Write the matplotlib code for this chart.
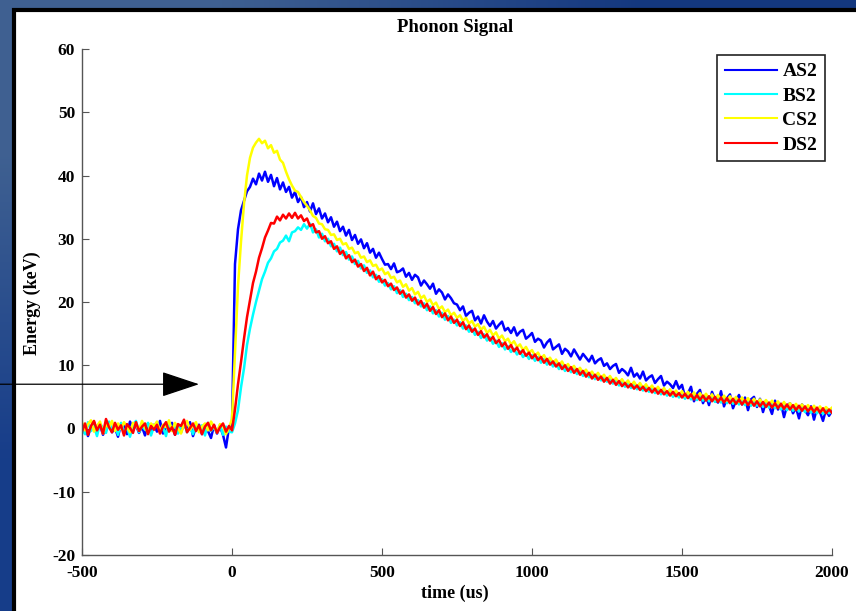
import numpy as np
import matplotlib
matplotlib.use("Agg")
import matplotlib.pyplot as plt
from matplotlib.patches import Rectangle
from matplotlib.patches import ArrowStyle

plt.rcParams['font.family'] = ['Liberation Serif', 'DejaVu Serif']
plt.rcParams['font.weight'] = 'bold'
plt.rcParams['axes.unicode_minus'] = False

# time axis, 10 us steps
t = np.arange(-500, 2001, 10)

AS2 = [
    -0.8, 0.5, -1.2, 0.3, 1.0, -0.4, 0.6, -1.0, 0.2, 0.9, -0.6, 0.1, -1.3, 0.7, 0.4, -0.9, 1.1, -0.2, 0.5, -0.7, 0.3, -1.1, 0.8, -0.3, 0.6,
    -0.5, 1.2, -0.8, 0.4, -0.2, 0.9, -1.0, 0.3, -0.6, 0.7, -0.3, 1.0, -1.2, 0.2, 0.6, -0.9, 0.4, -0.4, -1.5, 0.5, -0.8, 0.3, -1.0, -3.0, 0.2,
    0.5, 26.0, 31.5, 34.5, 36.0, 37.5, 38.2, 39.5, 38.6, 40.3, 39.2, 40.6, 39.0, 40.1, 38.3, 39.6, 37.8, 38.9, 37.4, 38.2, 36.5, 37.4, 35.8, 36.6, 35.0,
    35.8, 34.3, 35.6, 33.9, 34.8, 33.2, 34.0, 32.6, 33.4, 31.9, 32.7, 31.2, 31.9, 30.5, 31.4, 29.8, 30.6, 29.2, 29.9, 28.5, 29.3, 27.8, 28.4, 27.0, 27.8,
    26.8, 25.9, 26.0, 25.2, 26.1, 24.7, 24.9, 25.3, 24.0, 24.6, 23.5, 24.3, 23.9, 22.6, 23.4, 22.8, 22.1, 22.9, 21.3, 22.0, 21.5, 20.4, 21.2, 20.6, 19.8,
    19.6, 18.7, 19.3, 17.8, 18.3, 18.6, 17.1, 17.7, 16.6, 17.9, 16.9, 16.2, 17.0, 15.8, 16.4, 16.9, 15.5, 15.9, 15.1, 16.0, 14.7, 15.3, 15.6, 14.2, 14.6,
    15.1, 13.7, 14.2, 13.9, 12.8, 13.6, 14.1, 12.5, 12.9, 13.3, 11.8, 12.6, 12.2, 11.4, 12.5, 11.7, 10.9, 11.8, 11.2, 10.6, 11.5, 10.3, 10.8, 11.1, 9.9,
    10.3, 9.4, 9.9, 10.2, 8.8, 9.4, 9.0, 8.4, 9.6, 8.2, 8.7, 7.9, 9.0, 7.6, 8.1, 8.4, 7.2, 7.8, 8.3, 6.8, 7.4, 7.0, 6.4, 7.5, 6.3,
    6.9, 5.0, 5.6, 6.6, 4.3, 5.5, 6.1, 4.0, 5.2, 3.7, 5.8, 4.6, 4.1, 5.9, 3.5, 4.8, 5.4, 3.2, 4.4, 5.3, 3.8, 4.9, 2.9, 4.6, 5.0,
    3.4, 4.7, 2.6, 4.2, 3.6, 2.3, 4.4, 3.0, 3.9, 1.8, 3.6, 4.0, 2.4, 3.3, 1.6, 3.8, 2.9, 2.1, 3.5, 1.4, 3.2, 2.6, 1.2, 3.0, 2.0,
    2.8,
]

BS2 = [
    0.6, -0.9, 1.0, -0.4, 0.3, -1.2, 0.8, 0.1, -0.7, 1.1, -0.3, 0.5, -1.0, 0.9, -0.5, 0.2, -1.3, 0.6, 1.2, -0.6, 0.4, -0.2, 0.9, -1.1, 0.3,
    0.8, -0.5, 0.2, -1.2, 1.0, -0.3, 0.6, -0.8, 0.4, 1.1, -0.6, 0.3, -0.9, 0.7, -0.2, 0.5, -1.1, 0.9, -0.4, 0.2, -0.7, 0.6, -1.0, 0.3, -0.5,
    -0.6, 0.8, 2.9, 6.5, 9.5, 13.2, 15.8, 18.0, 20.0, 21.8, 23.6, 24.8, 26.2, 26.9, 28.0, 28.4, 29.4, 29.7, 30.5, 29.6, 31.0, 31.2, 31.8, 31.4, 32.3,
    31.6, 32.4, 31.0, 31.5, 30.2, 30.8, 29.6, 30.0, 28.8, 29.2, 28.0, 28.6, 27.4, 27.9, 26.7, 27.2, 26.0, 26.5, 25.3, 25.8, 24.6, 25.0, 23.9, 24.3, 23.2,
    23.6, 22.6, 23.0, 22.0, 22.5, 21.4, 21.9, 20.8, 21.3, 20.3, 20.8, 19.8, 20.3, 19.3, 19.8, 18.7, 19.3, 18.2, 18.7, 17.7, 18.3, 17.2, 17.8, 16.7, 17.2,
    16.3, 16.8, 15.8, 16.3, 15.3, 15.8, 14.8, 15.3, 14.3, 14.9, 13.9, 14.4, 13.4, 13.9, 12.9, 13.5, 12.5, 13.0, 12.1, 12.6, 11.7, 12.2, 11.3, 11.8, 11.0,
    11.6, 10.7, 11.3, 10.4, 11.0, 10.1, 10.7, 9.8, 10.3, 9.4, 10.0, 9.1, 9.7, 8.9, 9.4, 8.6, 9.2, 8.3, 8.9, 8.1, 8.6, 7.8, 8.4, 7.6, 8.1,
    7.4, 7.9, 7.1, 7.6, 6.8, 7.4, 6.6, 7.2, 6.4, 7.0, 6.2, 6.8, 6.0, 6.6, 5.8, 6.4, 5.6, 6.2, 5.4, 6.0, 5.2, 5.8, 5.0, 5.6, 4.9,
    5.4, 4.7, 5.3, 4.6, 5.2, 4.5, 5.1, 4.4, 5.0, 4.3, 4.9, 4.2, 4.8, 4.1, 4.7, 4.0, 4.6, 3.9, 4.5, 3.8, 4.4, 3.7, 4.3, 3.6, 4.2,
    3.6, 4.1, 3.4, 4.0, 3.3, 3.9, 3.2, 3.7, 3.0, 3.6, 2.9, 3.5, 2.8, 3.4, 2.7, 3.3, 2.6, 3.2, 2.5, 3.1, 2.4, 3.0, 2.3, 2.9, 2.4,
    2.7,
]

CS2 = [
    1.0, -0.3, 0.7, 1.3, -0.5, 0.4, 1.1, -0.8, 0.6, 0.2, 1.2, -0.4, 0.8, -0.1, 1.0, 0.3, -0.6, 0.9, 0.5, -0.3, 1.2, 0.1, -0.7, 0.8, 0.4,
    1.1, -0.5, 0.6, 0.2, 1.3, -0.4, 0.9, 0.0, -0.8, 0.7, 1.2, -0.2, 0.5, 1.0, -0.6, 0.3, 0.8, -0.3, 1.1, 0.2, -0.5, 0.7, 0.4, -0.9, 0.1,
    1.5, 12.0, 22.5, 29.5, 35.5, 40.0, 42.8, 44.4, 45.2, 45.8, 45.1, 45.5, 44.3, 44.8, 43.6, 43.9, 42.5, 42.0, 40.6, 39.4, 38.4, 37.6, 37.4, 36.6, 35.8,
    35.2, 34.5, 33.6, 33.3, 32.4, 32.3, 31.5, 31.4, 30.6, 30.7, 29.8, 30.0, 29.1, 29.3, 28.4, 28.6, 27.7, 27.9, 27.0, 27.2, 26.3, 26.6, 25.7, 25.9, 25.0,
    25.3, 24.4, 24.7, 23.8, 24.0, 23.1, 23.4, 22.4, 22.8, 21.8, 22.2, 21.2, 21.6, 20.6, 21.0, 20.0, 20.4, 19.5, 19.9, 18.9, 19.3, 18.4, 18.8, 17.9, 18.3,
    17.5, 17.9, 17.0, 17.5, 16.6, 17.0, 16.1, 16.5, 15.6, 16.1, 15.1, 15.6, 14.7, 15.2, 14.2, 14.7, 13.8, 14.2, 13.3, 13.8, 12.9, 13.3, 12.4, 12.9, 12.0,
    12.4, 11.5, 12.0, 11.1, 11.6, 10.7, 11.2, 10.4, 10.9, 10.0, 10.6, 9.7, 10.2, 9.4, 9.9, 9.1, 9.6, 8.8, 9.3, 8.5, 9.0, 8.2, 8.8, 8.0, 8.5,
    7.7, 8.3, 7.5, 8.0, 7.2, 7.8, 7.0, 7.6, 6.8, 7.4, 6.6, 7.2, 6.4, 7.0, 6.2, 6.8, 6.0, 6.6, 5.8, 6.4, 5.6, 6.2, 5.4, 6.0, 5.3,
    5.9, 5.1, 5.8, 5.0, 5.7, 4.9, 5.6, 4.8, 5.5, 4.7, 5.4, 4.6, 5.3, 4.5, 5.2, 4.4, 5.1, 4.3, 5.0, 4.2, 4.9, 4.1, 4.8, 4.0, 4.7,
    4.0, 4.6, 3.9, 4.5, 3.8, 4.4, 3.6, 4.3, 3.5, 4.2, 3.4, 4.0, 3.3, 3.9, 3.2, 3.8, 3.1, 3.7, 3.0, 3.6, 2.9, 3.5, 2.8, 3.4, 2.9,
    3.3,
]

DS2 = [
    -0.5, 0.8, -1.0, 0.4, 1.2, -0.3, 0.6, -0.8, 1.5, 0.2, -0.6, 0.9, -0.2, 0.5, -1.1, 0.7, 0.1, -0.7, 1.0, -0.4, 0.3, 0.8, -0.9, 0.4, -0.2,
    0.6, -0.8, 0.3, 1.0, -0.5, 0.2, -1.0, 0.7, 0.4, 1.4, -0.6, 0.1, 0.8, -0.4, 0.5, -0.9, 0.3, 0.9, -0.3, 0.6, -0.7, 0.2, 0.8, -0.5, 0.4,
    -0.3, 3.0, 7.0, 10.5, 14.2, 17.6, 20.3, 23.0, 24.8, 27.0, 28.5, 30.2, 31.3, 32.5, 32.4, 33.5, 32.9, 33.8, 33.2, 34.0, 33.3, 34.1, 33.2, 33.7, 32.8,
    33.2, 32.0, 32.3, 31.0, 31.2, 30.0, 30.4, 29.3, 29.6, 28.4, 28.8, 27.6, 28.1, 26.9, 27.4, 26.3, 26.7, 25.6, 26.0, 24.9, 25.4, 24.2, 24.8, 23.6, 24.1,
    23.1, 23.5, 22.5, 22.9, 21.9, 22.3, 21.3, 21.8, 20.7, 21.2, 20.2, 20.7, 19.6, 20.2, 19.1, 19.7, 18.6, 19.2, 18.1, 18.7, 17.6, 18.2, 17.1, 17.7, 16.7,
    17.2, 16.2, 16.8, 15.7, 16.3, 15.3, 15.8, 14.8, 15.4, 14.4, 14.9, 13.9, 14.5, 13.5, 14.0, 13.0, 13.6, 12.6, 13.2, 12.2, 12.8, 11.8, 12.4, 11.5, 12.0,
    11.1, 11.7, 10.8, 11.3, 10.4, 11.0, 10.1, 10.6, 9.8, 10.3, 9.4, 10.0, 9.1, 9.7, 8.8, 9.4, 8.5, 9.1, 8.2, 8.8, 7.9, 8.5, 7.7, 8.2, 7.4,
    8.0, 7.1, 7.7, 6.9, 7.5, 6.7, 7.2, 6.5, 7.0, 6.3, 6.8, 6.1, 6.6, 5.9, 6.4, 5.7, 6.3, 5.5, 6.1, 5.4, 5.9, 5.2, 5.8, 5.1, 5.6,
    4.9, 5.5, 4.8, 5.4, 4.6, 5.3, 4.5, 5.2, 4.4, 5.1, 4.3, 5.0, 4.2, 4.9, 4.1, 4.8, 4.0, 4.7, 3.9, 4.6, 3.8, 4.5, 3.7, 4.4, 3.6,
    4.3, 3.5, 4.2, 3.4, 4.1, 3.3, 4.0, 3.2, 3.9, 3.1, 3.8, 3.0, 3.7, 2.9, 3.6, 2.8, 3.5, 2.7, 3.4, 2.6, 3.3, 2.5, 3.2, 2.4, 3.0,
    2.5,
]

names = ['AS2', 'BS2', 'CS2', 'DS2']
colors = ['#0000ff', '#00ffff', '#ffff00', '#ff0000']
series = [AS2, BS2, CS2, DS2]

W, H = 856, 611
fig = plt.figure(figsize=(W / 100, H / 100), dpi=100)

# blue gradient background
bg = fig.add_axes([0, 0, 1, 1], zorder=-10)
grad = np.array([[[0.25, 0.38, 0.57], [0.08, 0.22, 0.50]],
                 [[0.09, 0.24, 0.54], [0.08, 0.22, 0.52]]])
bg.imshow(grad, aspect='auto', interpolation='bilinear', extent=[0, 1, 0, 1])
bg.axis('off')

# white panel with black border
fig.patches.append(Rectangle((14 / W, -0.1), 1.2, 1 - 10.5 / H + 0.1,
                             transform=fig.transFigure, facecolor='white',
                             edgecolor='black', linewidth=3, zorder=-5))

ax = fig.add_axes([82 / W, 1 - 555 / H, 750 / W, 506 / H])
ax.set_facecolor('none')

for s, c, n in zip(series, colors, names):
    ax.plot(t, s, color=c, lw=1.8, label=n)

ax.set_xlim(-500, 2000)
ax.set_ylim(-20, 60)
ax.set_xticks([-500, 0, 500, 1000, 1500, 2000])
ax.set_yticks([-20, -10, 0, 10, 20, 30, 40, 50, 60])
for side in ['top', 'right']:
    ax.spines[side].set_visible(False)
for side in ['left', 'bottom']:
    ax.spines[side].set_color('#555555')
    ax.spines[side].set_linewidth(1)
ax.tick_params(direction='in', length=5, width=0.8, color='#555555',
               labelsize=12.5)
ax.tick_params(axis='x', pad=7)
ax.tick_params(axis='y', pad=5)
for lab in ax.get_xticklabels() + ax.get_yticklabels():
    lab.set_fontweight('bold')

fig.text(455 / W, 1 - 28 / H, 'Phonon Signal', ha='center', va='center',
         fontsize=13.5, fontweight='bold')
fig.text(455 / W, 1 - 593 / H, 'time (us)', ha='center', va='center',
         fontsize=13, fontweight='bold')
fig.text(32 / W, 1 - 303 / H, 'Energy (keV)', ha='center', va='center',
         rotation=90, fontsize=13, fontweight='bold')

leg = ax.legend(loc='upper right', bbox_to_anchor=(825 / W, 1 - 55 / H),
                bbox_transform=fig.transFigure, borderaxespad=0,
                fancybox=False, edgecolor='#222222', framealpha=1,
                handlelength=2.7, labelspacing=0.35, handletextpad=0.25,
                prop={'size': 14, 'weight': 'bold'}, borderpad=0.4)
leg.get_frame().set_linewidth(1.2)
for line in leg.get_lines():
    line.set_linewidth(1.5)

# arrow on the left
ax.annotate('', xy=(-110, 7), xytext=(-1290, 7), annotation_clip=False,
            arrowprops=dict(arrowstyle=ArrowStyle('-|>', head_length=2.4, head_width=0.8),
                            mutation_scale=10, color='black', lw=0.9,
                            shrinkA=0, shrinkB=0))

fig.savefig('out.png', dpi=100)
